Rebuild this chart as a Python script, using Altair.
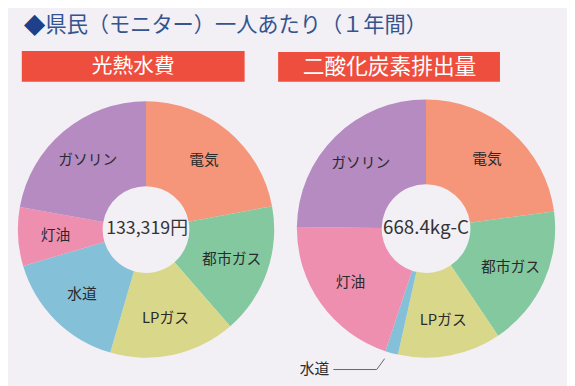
import altair as alt
import pandas as pd

categories = ["電気", "都市ガス", "LPガス", "水道", "灯油", "ガソリン"]
cost_yen = [29460, 22000, 21200, 21200, 9870, 29589]
co2_kgc = [153.0, 118.2, 86.3, 10.7, 134.3, 165.9]
colors = ["#F5967A", "#84C8A0", "#D9D88A", "#84C0D8", "#EE8FB0", "#B58BC2"]
panel_titles = ["光熱水費", "二酸化炭素排出量"]
center_labels = ["133,319円", "668.4kg-C"]
title_mark = "◆"
main_title = "県民（モニター）一人あたり（１年間）"
outside_label = "水道"

W, H = 567, 378
FONT = "Noto Sans CJK JP"
BG = "#F2EFF5"


def donut(values, cx, cy, r_out, r_in, label_r, hide_small):
    total = sum(values)
    df = pd.DataFrame({
        "cat": categories,
        "val": values,
        "idx": list(range(len(categories))),
        "label": [c if (not hide_small or v / total >= 0.03) else "" for c, v in zip(categories, values)],
    })
    base = alt.Chart(df).encode(
        theta=alt.Theta("val:Q", stack=True),
        order=alt.Order("idx:Q"),
    )
    arc = base.mark_arc(outerRadius=r_out, innerRadius=r_in).encode(
        color=alt.Color("cat:N", scale=alt.Scale(domain=categories, range=colors), legend=None),
        x=alt.value(cx), y=alt.value(cy),
    )
    text = base.mark_text(radius=label_r, font=FONT, fontSize=15, color="#2a2a2a",
                          align="center", baseline="middle").encode(
        text="label:N", x=alt.value(cx), y=alt.value(cy),
    )
    return alt.layer(arc, text)


left = donut(cost_yen, 140, 222, 130, 44, 92, False)
right = donut(co2_kgc, 424, 221, 131, 45, 94, True)

one = pd.DataFrame({"a": [0]})

diamond = alt.Chart(pd.DataFrame({"t": [title_mark]})).mark_text(
    align="left", baseline="middle", font=FONT, fontSize=22, color="#1F3F8A"
).encode(text="t:N", x=alt.value(16), y=alt.value(16))
title = alt.Chart(pd.DataFrame({"t": [main_title]})).mark_text(
    align="left", baseline="middle", font=FONT, fontSize=21.5, color="#34538F"
).encode(text="t:N", x=alt.value(38), y=alt.value(16))

ban_l = alt.Chart(one).mark_rect(color="#EE4E3E").encode(
    x=alt.value(14), x2=alt.value(240), y=alt.value(41), y2=alt.value(72))
ban_r = alt.Chart(one).mark_rect(color="#EE4E3E").encode(
    x=alt.value(274), x2=alt.value(499), y=alt.value(42), y2=alt.value(72))

pt = pd.DataFrame({"t": panel_titles, "i": [0, 1]})
ban_tl = alt.Chart(pt).transform_filter("datum.i == 0").mark_text(
    align="center", baseline="middle", font=FONT, fontSize=21, color="white"
).encode(text="t:N", x=alt.value(127), y=alt.value(57))
ban_tr = alt.Chart(pt).transform_filter("datum.i == 1").mark_text(
    align="center", baseline="middle", font=FONT, fontSize=22, color="white"
).encode(text="t:N", x=alt.value(387), y=alt.value(57))

cl = pd.DataFrame({"t": center_labels, "i": [0, 1]})
c_l = alt.Chart(cl).transform_filter("datum.i == 0").mark_text(
    align="center", baseline="middle", font=FONT, fontSize=18, color="#333333"
).encode(text="t:N", x=alt.value(141), y=alt.value(222))
c_r = alt.Chart(cl).transform_filter("datum.i == 1").mark_text(
    align="center", baseline="middle", font=FONT, fontSize=19, color="#333333"
).encode(text="t:N", x=alt.value(424), y=alt.value(221))

lead1 = alt.Chart(one).mark_rule(color="#666666", strokeWidth=1).encode(
    x=alt.value(382), y=alt.value(353), x2=alt.value(374), y2=alt.value(364))
lead2 = alt.Chart(one).mark_rule(color="#666666", strokeWidth=1).encode(
    x=alt.value(374), y=alt.value(364), x2=alt.value(330), y2=alt.value(364))
out_t = alt.Chart(pd.DataFrame({"t": [outside_label]})).mark_text(
    align="right", baseline="middle", font=FONT, fontSize=15, color="#2a2a2a"
).encode(text="t:N", x=alt.value(326), y=alt.value(364))

chart = alt.layer(
    left, right, diamond, title, ban_l, ban_r, ban_tl, ban_tr, c_l, c_r, lead1, lead2, out_t
).resolve_scale(theta="independent").properties(
    width=W, height=H, padding=0, autosize="none", background=BG
).configure_view(stroke=None)

chart.save("out.html", embed_options={"renderer": "svg", "actions": False})
